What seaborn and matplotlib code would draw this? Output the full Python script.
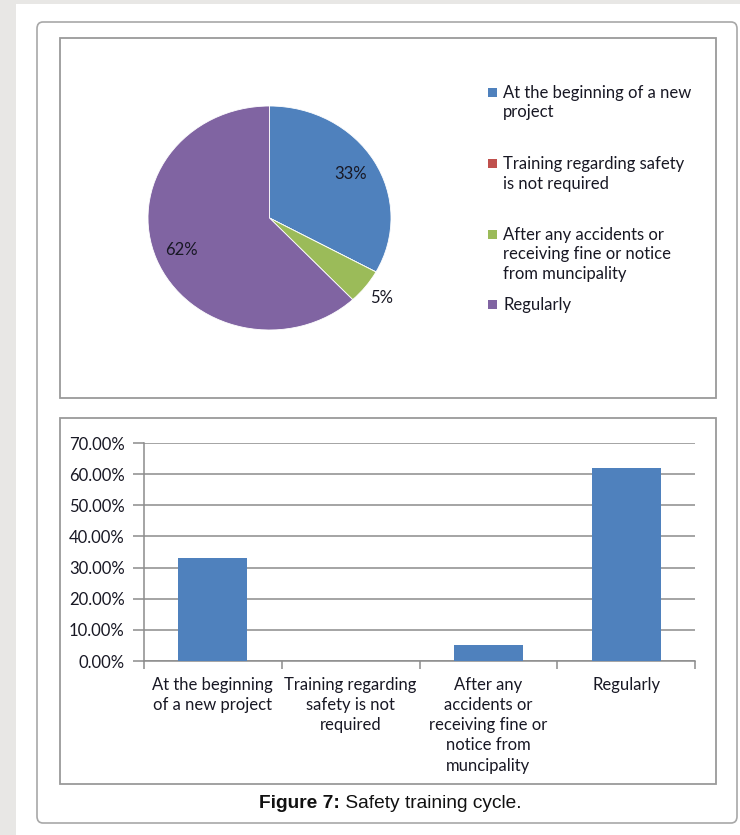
import matplotlib
matplotlib.use("Agg")
import matplotlib.pyplot as plt
from matplotlib.patches import FancyBboxPatch, Rectangle
from matplotlib.ticker import FixedLocator, PercentFormatter
import numpy as np
import pandas as pd
import seaborn as sns

# --- data -------------------------------------------------------------
categories = [
    "At the beginning of a new project",
    "Training regarding safety is not required",
    "After any accidents or receiving fine or notice from muncipality",
    "Regularly",
]
legend_labels = [
    "At the beginning of a new\nproject",
    "Training regarding safety\nis not required",
    "After any accidents or\nreceiving fine or notice\nfrom muncipality",
    "Regularly",
]
bar_tick_labels = [
    "At the beginning\nof a new project",
    "Training regarding\nsafety is not\nrequired",
    "After any\naccidents or\nreceiving fine or\nnotice from\nmuncipality",
    "Regularly",
]
shares = [0.33, 0.0, 0.05, 0.62]
slice_colors = ["#4F81BD", "#C0504D", "#9BBB59", "#8064A2"]
y_ticks = [0.0, 0.1, 0.2, 0.3, 0.4, 0.5, 0.6, 0.7]
caption_bold = "Figure 7:"
caption_rest = " Safety training cycle."

sns.set_theme(style="white")
plt.rcParams["font.family"] = ["Lato", "DejaVu Sans"]

W, H = 740, 835
fig = plt.figure(figsize=(W / 100, H / 100), dpi=100)
fig.patch.set_facecolor("white")


def box(x0, y0, x1, y1):
    """Pixel box (top-left origin) -> figure fraction rect."""
    return [x0 / W, 1 - y1 / H, (x1 - x0) / W, (y1 - y0) / H]


def fx(x):
    return x / W


def fy(y):
    return 1 - y / H


txt = "#181824"

# page background strips and the rounded figure panel
fig.patches.append(Rectangle((0, 0), fx(16), 1, transform=fig.transFigure,
                             facecolor="#e8e7e5", edgecolor="none", zorder=0))
fig.patches.append(Rectangle((0, fy(4)), 1, 4 / H, transform=fig.transFigure,
                             facecolor="#e8e7e5", edgecolor="none", zorder=0))
fig.patches.append(FancyBboxPatch((fx(37), fy(823)), fx(737) - fx(37), fy(22) - fy(823),
                                  boxstyle="round,pad=0,rounding_size=0.008",
                                  transform=fig.transFigure, facecolor="white",
                                  edgecolor="#a8a8a8", linewidth=1.2, zorder=1))
# chart frames
for (x0, y0, x1, y1) in [(60, 38, 716, 398), (60, 418, 716, 784)]:
    fig.patches.append(Rectangle((fx(x0), fy(y1)), fx(x1) - fx(x0), fy(y0) - fy(y1),
                                 transform=fig.transFigure, facecolor="white",
                                 edgecolor="#9a9a9a", linewidth=1.3, zorder=2))

# --- pie ----------------------------------------------------------------
ax_pie = fig.add_axes(box(148, 106, 391, 330))
ax_pie.set_zorder(3)
wedges, _ = ax_pie.pie(shares, colors=slice_colors, startangle=90, counterclock=False,
                       radius=1.0, wedgeprops=dict(linewidth=0.6, edgecolor="white"))
ax_pie.set_aspect("auto")
ax_pie.set_xlim(-1, 1)
ax_pie.set_ylim(-1, 1)
ax_pie.axis("off")
for w, v in zip(wedges, shares):
    if v <= 0:
        continue
    mid = np.deg2rad((w.theta1 + w.theta2) / 2)
    r = 0.78 if v > 0.1 else 1.17
    ax_pie.text(r * np.cos(mid), r * np.sin(mid), f"{v * 100:.0f}%",
                ha="center", va="center", fontsize=12, color=txt)

# legend: one coloured square per entry, text lines stacked below it
legend_first_line = [93, 164, 235, 305]
line_step = 19.5
for lab, col, y0 in zip(legend_labels, slice_colors, legend_first_line):
    fig.patches.append(Rectangle((fx(488), fy(y0 + 4)), 8.5 / W, 8.5 / H,
                                 transform=fig.transFigure, facecolor=col,
                                 edgecolor="none", zorder=4))
    for i, line in enumerate(lab.split("\n")):
        fig.text(fx(503), fy(y0 + i * line_step), line, ha="left", va="center",
                 fontsize=12, color=txt, zorder=4)

# --- bars ---------------------------------------------------------------
df = pd.DataFrame({"category": categories, "share": shares})
ax_bar = fig.add_axes(box(144, 443, 695, 661))
ax_bar.set_zorder(3)
sns.barplot(data=df, x="category", y="share", color=slice_colors[0], width=0.5,
            saturation=1, linewidth=0, ax=ax_bar, zorder=3)
ax_bar.set_ylim(0, 0.7)
ax_bar.set_xlim(-0.5, len(categories) - 0.5)
ax_bar.yaxis.set_major_locator(FixedLocator(y_ticks))
ax_bar.yaxis.set_major_formatter(PercentFormatter(1.0, decimals=2))
ax_bar.grid(axis="y", color="#8c8c8c", linewidth=1.1, zorder=0)
ax_bar.set_axisbelow(True)
for s in ["top", "right"]:
    ax_bar.spines[s].set_visible(False)
for s in ["left", "bottom"]:
    ax_bar.spines[s].set_color("#8c8c8c")
    ax_bar.spines[s].set_linewidth(1.1)
ax_bar.set_xlabel("")
ax_bar.set_ylabel("")
ax_bar.set_xticks(range(len(categories)))
ax_bar.set_xticklabels(bar_tick_labels, fontsize=12, color=txt, linespacing=1.32,
                       ha="center", va="top")
ax_bar.set_xticks(np.arange(-0.5, len(categories)), minor=True)
ax_bar.tick_params(axis="x", which="major", length=0, pad=11.5)
ax_bar.tick_params(axis="x", which="minor", length=6, width=1.1, color="#8c8c8c",
                   direction="out", bottom=True)
ax_bar.tick_params(axis="y", length=8, width=1.1, color="#8c8c8c", direction="out",
                   left=True, labelsize=12, labelcolor=txt, pad=6)

# caption
cap_y = fy(803)
cap_font = ["Liberation Sans", "DejaVu Sans"]
t1 = fig.text(fx(259), cap_y, caption_bold, ha="left", va="center", fontsize=13.8,
              fontweight="bold", family=cap_font, color="#111111")
fig.canvas.draw()
bb = t1.get_window_extent()
fig.text(bb.x1 / W, cap_y, caption_rest, ha="left", va="center", fontsize=13.8,
         family=cap_font, color="#111111")

fig.savefig("out.png", dpi=100, facecolor="white")
